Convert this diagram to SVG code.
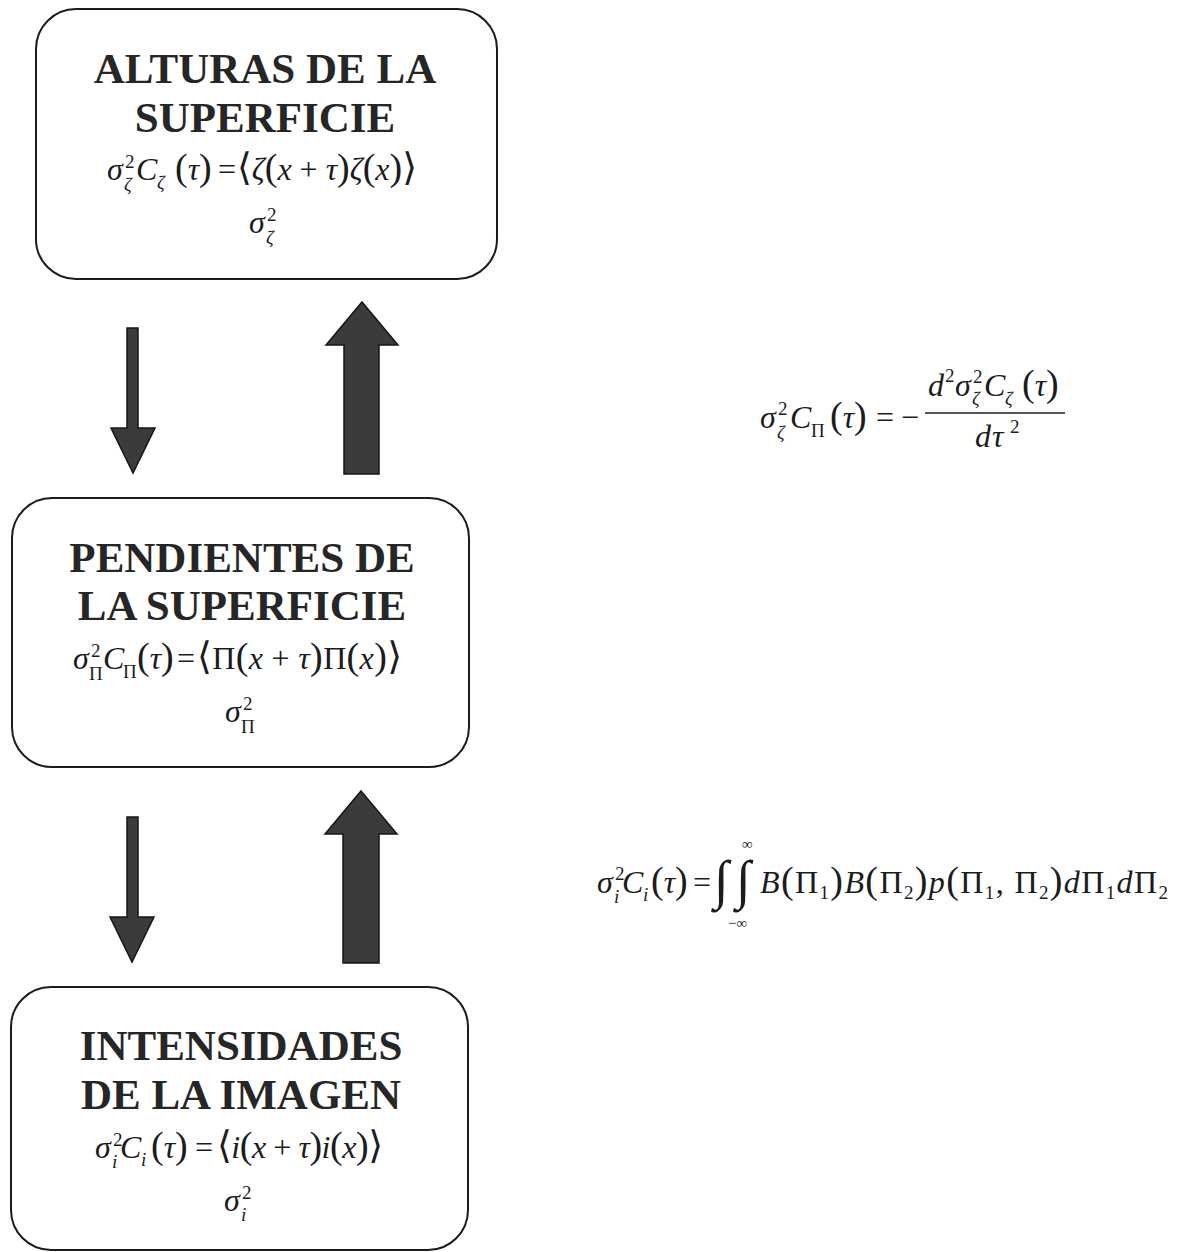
<svg xmlns="http://www.w3.org/2000/svg" width="1184" height="1252" viewBox="0 0 1184 1252">
  <style>
    .box { fill: #ffffff; stroke: #1c1c1c; stroke-width: 2; }
    .title { font-family: "Liberation Serif", "Times New Roman", serif; font-weight: bold; font-size: 43px; fill: #262626; text-anchor: middle; }
    .m { font-family: "Liberation Serif", "DejaVu Serif", serif; font-size: 32px; fill: #1c1c1c; }
    .it { font-style: italic; }
    .sm { font-size: 19px; }
    .p { font-size: 38px; }
    .lim { font-size: 15px; }
    .int { font-size: 54px; font-style: italic; }
    .arrow { fill: #3b3b3b; stroke: #161616; stroke-width: 1.5; stroke-linejoin: miter; }
    .bar { stroke: #1c1c1c; stroke-width: 1.6; }
  </style>

  <rect width="1184" height="1252" fill="#ffffff"/>

  <!-- surface heights -->
  <g id="alturas">
    <rect class="box" x="36" y="9" width="461" height="270" rx="40" ry="40"/>
    <text class="title" x="265" y="83">ALTURAS DE LA</text>
    <text class="title" x="265" y="132">SUPERFICIE</text>
    <text class="m it" x="107" y="180">σ</text>
    <text class="m sm" x="125" y="168">2</text>
    <text class="m sm it" x="124" y="191">ζ</text>
    <text class="m it" x="136" y="180">C</text>
    <text class="m sm it" x="157" y="189">ζ</text>
    <text class="m" x="175" y="180"><tspan class="p">(</tspan><tspan class="it">τ</tspan><tspan class="p">)</tspan></text>
    <text class="m" x="218" y="180">=</text>
    <text class="m" x="237" y="180" textLength="180" lengthAdjust="spacing"><tspan class="p">⟨</tspan><tspan class="it">ζ</tspan><tspan class="p">(</tspan><tspan class="it">x</tspan> + <tspan class="it">τ</tspan><tspan class="p">)</tspan><tspan class="it">ζ</tspan><tspan class="p">(</tspan><tspan class="it">x</tspan><tspan class="p">)⟩</tspan></text>
    <text class="m it" x="249" y="233">σ</text>
    <text class="m sm" x="267" y="221">2</text>
    <text class="m sm it" x="266" y="244">ζ</text>
  </g>

  <!-- surface slopes -->
  <g id="pendientes">
    <rect class="box" x="12" y="498" width="457" height="269" rx="40" ry="40"/>
    <text class="title" x="242" y="572">PENDIENTES DE</text>
    <text class="title" x="242" y="620">LA SUPERFICIE</text>
    <text class="m it" x="73" y="669">σ</text>
    <text class="m sm" x="91" y="657">2</text>
    <text class="m sm" x="89" y="680">Π</text>
    <text class="m it" x="103" y="669">C</text>
    <text class="m sm" x="123" y="678">Π</text>
    <text class="m" x="137" y="669"><tspan class="p">(</tspan><tspan class="it">τ</tspan><tspan class="p">)</tspan></text>
    <text class="m" x="177" y="669">=</text>
    <text class="m" x="197" y="669" textLength="205" lengthAdjust="spacing"><tspan class="p">⟨</tspan>Π<tspan class="p">(</tspan><tspan class="it">x</tspan> + <tspan class="it">τ</tspan><tspan class="p">)</tspan>Π<tspan class="p">(</tspan><tspan class="it">x</tspan><tspan class="p">)⟩</tspan></text>
    <text class="m it" x="225" y="722">σ</text>
    <text class="m sm" x="243" y="710">2</text>
    <text class="m sm" x="241" y="733">Π</text>
  </g>

  <!-- image intensities -->
  <g id="intensidades">
    <rect class="box" x="11" y="987" width="457" height="263" rx="40" ry="40"/>
    <text class="title" x="241" y="1060">INTENSIDADES</text>
    <text class="title" x="241" y="1109">DE LA IMAGEN</text>
    <text class="m it" x="95" y="1158">σ</text>
    <text class="m sm" x="113" y="1146">2</text>
    <text class="m sm it" x="112" y="1168">i</text>
    <text class="m it" x="120" y="1158">C</text>
    <text class="m sm it" x="141" y="1166">i</text>
    <text class="m" x="151" y="1158"><tspan class="p">(</tspan><tspan class="it">τ</tspan><tspan class="p">)</tspan></text>
    <text class="m" x="195" y="1158">=</text>
    <text class="m" x="217" y="1158" textLength="166" lengthAdjust="spacing"><tspan class="p">⟨</tspan><tspan class="it">i</tspan><tspan class="p">(</tspan><tspan class="it">x</tspan> + <tspan class="it">τ</tspan><tspan class="p">)</tspan><tspan class="it">i</tspan><tspan class="p">(</tspan><tspan class="it">x</tspan><tspan class="p">)⟩</tspan></text>
    <text class="m it" x="224" y="1211">σ</text>
    <text class="m sm" x="242" y="1199">2</text>
    <text class="m sm it" x="241" y="1221">i</text>
  </g>

  <!-- slope autocorrelation from height autocorrelation -->
  <g id="relacion-pendientes">
    <text class="m it" x="760" y="428">σ</text>
    <text class="m sm" x="778" y="415">2</text>
    <text class="m sm it" x="777" y="439">ζ</text>
    <text class="m it" x="790" y="428">C</text>
    <text class="m sm" x="811" y="437">Π</text>
    <text class="m" x="830" y="428"><tspan class="p">(</tspan><tspan class="it">τ</tspan><tspan class="p">)</tspan></text>
    <text class="m" x="876" y="428">=</text>
    <text class="m" x="901" y="428">−</text>
    <line class="bar" x1="925" y1="413" x2="1065" y2="413"/>
    <text class="m it" x="928" y="396">d</text>
    <text class="m sm" x="945" y="382">2</text>
    <text class="m it" x="955" y="396">σ</text>
    <text class="m sm" x="973" y="383">2</text>
    <text class="m sm it" x="972" y="405">ζ</text>
    <text class="m it" x="984" y="396">C</text>
    <text class="m sm it" x="1005" y="405">ζ</text>
    <text class="m" x="1022" y="396"><tspan class="p">(</tspan><tspan class="it">τ</tspan><tspan class="p">)</tspan></text>
    <text class="m it" x="975" y="447">d</text>
    <text class="m it" x="992" y="447">τ</text>
    <text class="m sm" x="1010" y="433">2</text>
  </g>

  <!-- intensity autocorrelation from slope statistics -->
  <g id="relacion-intensidades">
    <text class="m it" x="597" y="893">σ</text>
    <text class="m sm" x="615" y="880">2</text>
    <text class="m sm it" x="614" y="903">i</text>
    <text class="m it" x="622" y="893">C</text>
    <text class="m sm it" x="643" y="901">i</text>
    <text class="m" x="651" y="893"><tspan class="p">(</tspan><tspan class="it">τ</tspan><tspan class="p">)</tspan></text>
    <text class="m" x="693" y="893">=</text>
    <text class="m int" x="714" y="898">∫</text>
    <text class="m int" x="736" y="898">∫</text>
    <text class="m lim" x="742" y="849">∞</text>
    <text class="m lim" x="728" y="928">−∞</text>
    <text class="m" x="760" y="893" textLength="408" lengthAdjust="spacing"><tspan class="it">B</tspan><tspan class="p">(</tspan>Π<tspan class="sm" dy="6">1</tspan><tspan class="p" dy="-6">)</tspan><tspan class="it">B</tspan><tspan class="p">(</tspan>Π<tspan class="sm" dy="6">2</tspan><tspan class="p" dy="-6">)</tspan><tspan class="it">p</tspan><tspan class="p">(</tspan>Π<tspan class="sm" dy="6">1</tspan><tspan dy="-6">, Π</tspan><tspan class="sm" dy="6">2</tspan><tspan class="p" dy="-6">)</tspan><tspan class="it">d</tspan>Π<tspan class="sm" dy="6">1</tspan><tspan class="it" dy="-6">d</tspan>Π<tspan class="sm" dy="6">2</tspan></text>
  </g>

  <!-- block arrows between the levels -->
  <g id="conectores">
    <polygon class="arrow" points="127,328 138,328 138,428 155,428 133,473 111,428 127,428"/>
    <polygon class="arrow" points="362,302 398,345 379,345 379,474 344,474 344,345 326,345"/>
    <polygon class="arrow" points="127,817 138,817 138,917 154,917 132,962 110,917 127,917"/>
    <polygon class="arrow" points="361,791 397,834 379,834 379,963 343,963 343,834 325,834"/>
  </g>
</svg>
